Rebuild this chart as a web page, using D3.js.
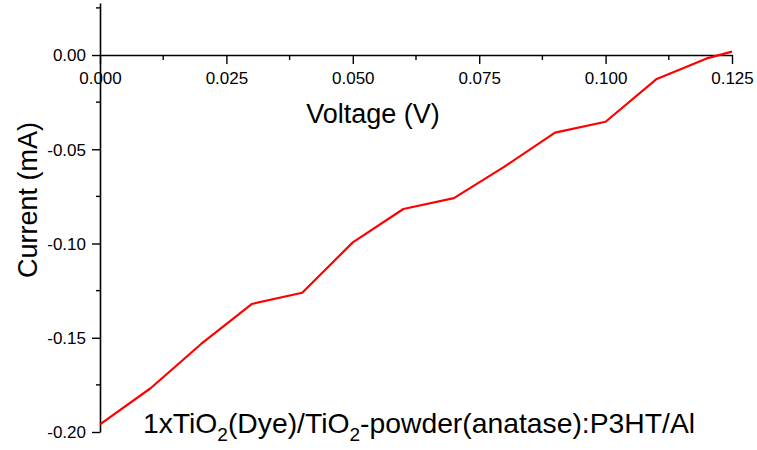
<!DOCTYPE html>
<html><head><meta charset="utf-8">
<script src="https://cdn.jsdelivr.net/npm/d3@7"></script>
<style>body{margin:0;background:#fff}svg{display:block}text{font-family:"Liberation Sans",Arial,sans-serif;fill:#000}</style>
</head><body><svg id="c" width="757" height="450"></svg>
<script>
const voltage = [0, 0.01, 0.02, 0.03, 0.04, 0.05, 0.06, 0.07, 0.08, 0.09, 0.10, 0.11, 0.12, 0.125];
const current = [-0.1959, -0.1768, -0.1533, -0.1321, -0.1261, -0.0994, -0.0817, -0.0759, -0.0592, -0.0412, -0.0354, -0.0129, -0.0018, 0.0018];
const xTicks = [0, 0.025, 0.05, 0.075, 0.1, 0.125];
const xMinor = [0.0125, 0.0375, 0.0625, 0.0875, 0.1125];
const yTicks = [0, -0.05, -0.10, -0.15, -0.20];
const yMinor = [0.025, -0.025, -0.075, -0.125, -0.175];
const xTitle = "Voltage (V)";
const yTitle = "Current (mA)";

const svg = d3.select("#c");
const x = d3.scaleLinear().domain([0, 0.125]).range([100, 732]);
const y = d3.scaleLinear().domain([-0.20, 0.0276]).range([432, 3]);

// y axis
const gy = svg.append("g").attr("transform", `translate(${x(0)},0)`);
gy.call(d3.axisLeft(y).tickValues(yTicks).tickFormat(d3.format(".2f")).tickSize(8).tickSizeOuter(0))
  .call(g => g.select(".domain").attr("stroke-width", 1.6))
  .call(g => g.selectAll(".tick line").attr("stroke-width", 1.4))
  .call(g => g.selectAll(".tick text").attr("font-size", 17).attr("x", -14).attr("dy", "0.35em")
      .text(d => d3.format(".2f")(d).replace("−", "-")));
gy.selectAll(".minor").data(yMinor).enter().append("line")
  .attr("x1", -4).attr("x2", 0).attr("y1", d => y(d)).attr("y2", d => y(d))
  .attr("stroke", "#000").attr("stroke-width", 1.4);

// x axis at y=0
const gx = svg.append("g").attr("transform", `translate(0,${y(0)})`);
gx.call(d3.axisBottom(x).tickValues(xTicks).tickFormat(d3.format(".3f")).tickSize(9).tickSizeOuter(0))
  .call(g => g.select(".domain").attr("stroke-width", 1.6))
  .call(g => g.selectAll(".tick line").attr("stroke-width", 1.4))
  .call(g => g.selectAll(".tick text").attr("font-size", 17).attr("y", 17));
gx.selectAll(".minor").data(xMinor).enter().append("line")
  .attr("x1", d => x(d)).attr("x2", d => x(d)).attr("y1", 0).attr("y2", 5)
  .attr("stroke", "#000").attr("stroke-width", 1.4);
svg.selectAll(".domain").attr("stroke", "#000");

// data line
svg.append("path")
  .datum(voltage.map((v, i) => [v, current[i]]))
  .attr("fill", "none").attr("stroke", "#ff0000").attr("stroke-width", 2.2)
  .attr("stroke-linejoin", "round")
  .attr("d", d3.line().x(d => x(d[0])).y(d => y(d[1])));

// axis titles
svg.append("text").attr("x", 373).attr("y", 123).attr("text-anchor", "middle")
  .attr("font-size", 27).text(xTitle);
svg.append("text").attr("transform", "translate(37,200) rotate(-90)").attr("text-anchor", "middle")
  .attr("font-size", 27).text(yTitle);

// bottom label with subscripts
const lab = svg.append("text").attr("x", 419).attr("y", 433).attr("text-anchor", "middle").attr("font-size", 28.3);
const parts = [["1xTiO", false], ["2", true], ["(Dye)/TiO", false], ["2", true], ["-powder(anatase):P3HT/Al", false]];
parts.forEach(([t, sub]) => {
  const ts = lab.append("tspan").text(t);
  if (sub) ts.attr("font-size", 19).attr("dy", 8);
  else ts.attr("dy", t === "1xTiO" ? 0 : -8);
});
</script></body></html>
